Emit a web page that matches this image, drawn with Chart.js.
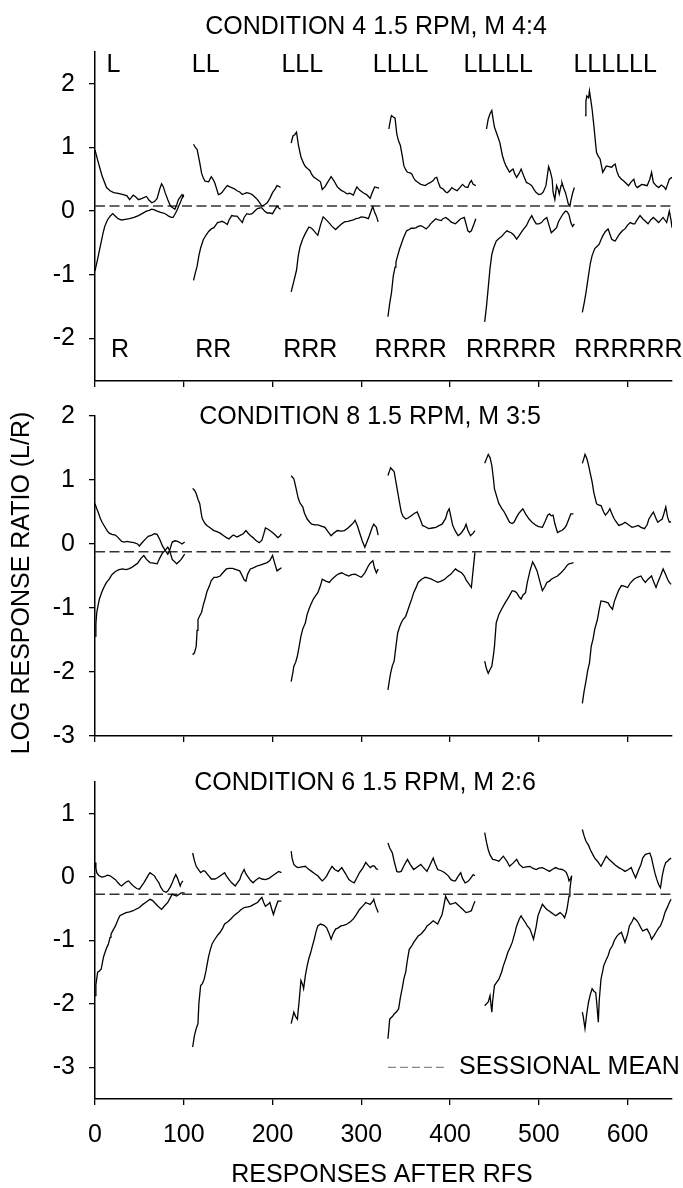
<!DOCTYPE html>
<html>
<head>
<meta charset="utf-8">
<script src="https://cdn.jsdelivr.net/npm/chart.js@4.4.1/dist/chart.umd.min.js"></script>
<style>
html,body{margin:0;padding:0;background:#fff;}
#wrap{position:relative;width:683px;height:1188px;overflow:hidden;}
#wrap canvas{position:absolute;left:0;top:0;}
</style>
</head>
<body>
<div id="wrap">
<canvas id="c1" width="683" height="1188"></canvas>
<canvas id="c2" width="683" height="1188"></canvas>
<canvas id="c3" width="683" height="1188"></canvas>
</div>
<script>
// ---------------- DATA ----------------
const xTicks = [0, 100, 200, 300, 400, 500, 600];
const xLabels = ['0', '100', '200', '300', '400', '500', '600'];
const yTicks4 = [-2, -1, 0, 1, 2];
const yTicks8 = [-3, -2, -1, 0, 1, 2];
const yTicks6 = [-3, -2, -1, 0, 1];
const panelTitles = ['CONDITION 4 1.5 RPM, M 4:4', 'CONDITION 8 1.5 RPM, M 3:5', 'CONDITION 6 1.5 RPM, M 2:6'];
const sessionalMeans = [0.08, -0.12, -0.27];
const topLabels = ['L', 'LL', 'LLL', 'LLLL', 'LLLLL', 'LLLLLL'];
const bottomLabels = ['R', 'RR', 'RRR', 'RRRR', 'RRRRR', 'RRRRRR'];
const topLabelX = [13, 109, 210, 313, 415, 539];
const bottomLabelX = [18, 113, 212, 315, 418, 540];
const yAxisTitle = 'LOG RESPONSE RATIO (L/R)';
const xAxisTitle = 'RESPONSES AFTER RFS';
const legendText = 'SESSIONAL MEAN';

// Condition 4 (M 4:4)
const c4L1 = [[0,0.96],[3,0.8],[6,0.65],[8,0.55],[13,0.37],[17,0.32],[21,0.29],[26,0.28],[32,0.26],[36,0.24],[39,0.18],[43,0.25],[46,0.22],[49,0.18],[53,0.2],[58,0.23],[61,0.17],[64,0.13],[67,0.15],[70,0.2],[73,0.35],[75,0.43],[77,0.38],[79,0.29],[82,0.18],[85,0.08],[88,0.05],[90,0.03],[92,0.1],[94,0.18],[96,0.22],[98,0.26],[100,0.22]];
const c4R1 = [[0,-0.94],[3,-0.75],[6,-0.55],[9,-0.35],[11,-0.24],[14,-0.14],[17,-0.08],[20,-0.04],[23,-0.08],[26,-0.12],[30,-0.14],[34,-0.13],[39,-0.12],[44,-0.1],[49,-0.07],[53,-0.04],[58,0.0],[61,0.01],[64,0.03],[67,0.02],[70,0.0],[74,-0.02],[77,-0.03],[80,-0.05],[83,-0.08],[86,-0.1],[88,-0.1],[90,-0.05],[92,0.0],[94,0.07],[96,0.13],[98,0.2],[100,0.26]];
const c4L2 = [[111,1.05],[113,1.0],[115,0.97],[118,0.76],[120,0.6],[122,0.52],[124,0.47],[128,0.46],[131,0.54],[133,0.5],[135,0.44],[137,0.35],[139,0.26],[141,0.27],[143,0.29],[146,0.35],[149,0.4],[152,0.38],[154,0.37],[157,0.35],[160,0.32],[163,0.3],[166,0.26],[169,0.28],[171,0.29],[174,0.28],[177,0.26],[180,0.22],[183,0.18],[186,0.12],[188,0.08],[191,0.1],[194,0.13],[197,0.2],[200,0.29],[203,0.35],[205,0.4],[207,0.39],[209,0.37]];
const c4R2 = [[111,-1.09],[113,-0.97],[115,-0.87],[117,-0.7],[119,-0.58],[122,-0.45],[125,-0.38],[128,-0.32],[131,-0.28],[134,-0.26],[136,-0.22],[138,-0.18],[141,-0.17],[143,-0.16],[146,-0.18],[149,-0.21],[151,-0.14],[154,-0.07],[157,-0.08],[160,-0.08],[163,-0.13],[166,-0.18],[168,-0.1],[171,-0.04],[174,-0.05],[177,-0.04],[180,0.0],[183,0.04],[186,0.05],[188,0.05],[191,0.0],[194,-0.03],[197,-0.03],[200,-0.04],[203,0.03],[205,0.08],[207,0.05],[209,0.03]];
const c4L3 = [[221,1.07],[223,1.18],[225,1.2],[227,1.24],[229,1.05],[232,0.85],[235,0.75],[237,0.7],[240,0.66],[242,0.64],[244,0.58],[246,0.54],[250,0.5],[254,0.46],[256,0.34],[259,0.38],[262,0.45],[266,0.54],[269,0.48],[273,0.38],[277,0.33],[281,0.3],[284,0.27],[287,0.28],[291,0.25],[293,0.32],[295,0.38],[298,0.33],[301,0.3],[303,0.28],[306,0.26],[308,0.23],[310,0.2],[312,0.28],[315,0.38],[318,0.37],[320,0.36]];
const c4R3 = [[221,-1.27],[224,-1.1],[227,-0.93],[229,-0.7],[231,-0.56],[234,-0.44],[237,-0.35],[239,-0.3],[241,-0.25],[244,-0.27],[246,-0.3],[249,-0.35],[251,-0.38],[254,-0.22],[257,-0.09],[260,-0.13],[264,-0.19],[267,-0.24],[271,-0.29],[274,-0.25],[277,-0.21],[281,-0.17],[285,-0.16],[288,-0.15],[291,-0.14],[294,-0.12],[297,-0.11],[300,-0.09],[304,-0.1],[308,-0.12],[311,0.0],[313,0.07],[315,-0.02],[317,-0.08],[319,-0.17]];
const c4L4 = [[331,1.29],[333,1.45],[334,1.5],[336,1.48],[338,1.46],[340,1.21],[342,1.1],[344,1.03],[346,0.88],[348,0.71],[350,0.65],[352,0.61],[355,0.6],[357,0.58],[359,0.52],[361,0.48],[364,0.45],[367,0.42],[370,0.41],[372,0.4],[375,0.43],[378,0.45],[381,0.48],[383,0.52],[385,0.53],[387,0.44],[389,0.37],[392,0.35],[395,0.3],[397,0.29],[400,0.33],[402,0.37],[405,0.34],[408,0.32],[411,0.37],[414,0.42],[417,0.38],[420,0.37],[422,0.44],[424,0.48],[426,0.42],[429,0.4]];
const c4R4 = [[330,-1.66],[332,-1.45],[334,-1.28],[336,-1.02],[338,-0.88],[339,-0.8],[341,-0.7],[343,-0.6],[345,-0.52],[347,-0.44],[349,-0.37],[351,-0.31],[354,-0.29],[356,-0.27],[359,-0.27],[362,-0.26],[364,-0.24],[367,-0.23],[370,-0.25],[373,-0.28],[376,-0.24],[378,-0.2],[381,-0.16],[384,-0.12],[387,-0.14],[390,-0.15],[392,-0.12],[395,-0.1],[398,-0.13],[401,-0.17],[404,-0.19],[406,-0.2],[409,-0.16],[412,-0.12],[414,-0.11],[416,-0.1],[418,-0.2],[420,-0.31],[422,-0.33],[424,-0.31],[427,-0.2],[429,-0.12]];
const c4L5 = [[441,1.29],[443,1.45],[445,1.53],[447,1.58],[449,1.4],[450,1.32],[453,1.2],[456,1.08],[459,0.87],[461,0.78],[463,0.71],[467,0.61],[469,0.64],[471,0.66],[473,0.58],[475,0.53],[478,0.6],[480,0.66],[483,0.55],[486,0.45],[489,0.43],[492,0.4],[495,0.33],[497,0.29],[500,0.26],[503,0.27],[505,0.3],[508,0.4],[510,0.6],[511,0.7],[513,0.62],[515,0.5],[516,0.3],[518,0.18],[520,0.4],[522,0.33],[523,0.27],[525,0.4],[526,0.45],[528,0.36],[530,0.29],[532,0.18],[533,0.12],[535,0.08],[536,0.16],[538,0.28],[540,0.37]];
const c4R5 = [[439,-1.74],[441,-1.5],[443,-1.2],[445,-0.9],[447,-0.68],[449,-0.58],[452,-0.47],[455,-0.43],[458,-0.4],[461,-0.35],[464,-0.31],[467,-0.33],[469,-0.34],[472,-0.38],[475,-0.44],[478,-0.38],[480,-0.34],[483,-0.28],[486,-0.23],[489,-0.14],[492,-0.07],[494,-0.13],[497,-0.2],[500,-0.2],[503,-0.18],[506,-0.13],[509,-0.1],[511,-0.2],[514,-0.34],[517,-0.3],[520,-0.26],[522,-0.17],[524,-0.12],[527,-0.05],[530,0.0],[532,-0.01],[534,-0.06],[536,-0.18],[538,-0.24],[540,-0.2]];
const c4L6 = [[552,1.5],[553,1.72],[554,1.81],[556,1.78],[557,1.89],[559,1.7],[560,1.6],[562,1.34],[564,1.05],[565,0.92],[567,0.86],[569,0.82],[571,0.68],[572,0.61],[574,0.66],[576,0.71],[579,0.7],[582,0.69],[584,0.72],[586,0.74],[588,0.62],[590,0.55],[593,0.5],[595,0.48],[598,0.44],[601,0.4],[604,0.46],[607,0.5],[609,0.4],[611,0.37],[614,0.4],[616,0.42],[619,0.41],[622,0.4],[625,0.5],[627,0.61],[629,0.45],[632,0.4],[635,0.37],[638,0.41],[641,0.38],[643,0.34],[645,0.42],[647,0.5],[650,0.53]];
const c4R6 = [[549,-1.59],[551,-1.45],[553,-1.29],[555,-1.1],[558,-0.82],[560,-0.7],[563,-0.59],[566,-0.55],[568,-0.52],[570,-0.45],[572,-0.39],[575,-0.32],[578,-0.28],[580,-0.36],[582,-0.44],[584,-0.46],[586,-0.47],[589,-0.4],[591,-0.36],[594,-0.31],[597,-0.28],[600,-0.22],[603,-0.18],[606,-0.2],[608,-0.2],[611,-0.13],[614,-0.07],[617,-0.12],[620,-0.16],[623,-0.2],[626,-0.14],[629,-0.1],[632,-0.14],[635,-0.18],[638,-0.13],[640,-0.1],[642,-0.14],[644,-0.18],[646,-0.06],[647,0.0],[649,-0.15],[650,-0.26]];

// Condition 8 (M 3:5)
const c8L1 = [[0,0.63],[2,0.55],[4,0.48],[6,0.4],[8,0.34],[11,0.27],[14,0.2],[16,0.17],[19,0.15],[23,0.14],[26,0.1],[30,0.04],[33,0.03],[36,0.04],[40,0.03],[44,0.02],[48,0.0],[50,-0.03],[53,0.02],[57,0.08],[60,0.12],[64,0.14],[67,0.16],[70,0.15],[73,0.07],[76,-0.03],[79,-0.1],[82,-0.16],[84,-0.1],[87,0.03],[90,0.05],[93,0.04],[96,0.02],[98,0.0],[101,0.03]];
const c8R1 = [[0,-1.44],[1,-1.25],[2,-1.07],[4,-0.92],[5,-0.86],[8,-0.74],[11,-0.65],[13,-0.6],[16,-0.55],[19,-0.48],[23,-0.43],[27,-0.4],[31,-0.39],[35,-0.4],[38,-0.39],[41,-0.37],[45,-0.33],[48,-0.3],[52,-0.22],[55,-0.18],[58,-0.24],[62,-0.29],[66,-0.3],[70,-0.31],[73,-0.22],[76,-0.14],[79,-0.1],[82,-0.05],[84,-0.1],[87,-0.24],[90,-0.28],[92,-0.31],[95,-0.27],[97,-0.24],[99,-0.2],[101,-0.16]];
const c8L2 = [[110,0.87],[112,0.84],[114,0.79],[116,0.7],[118,0.63],[120,0.45],[121,0.39],[124,0.32],[126,0.29],[130,0.25],[134,0.21],[138,0.19],[141,0.17],[145,0.13],[148,0.1],[151,0.08],[154,0.12],[156,0.14],[160,0.11],[163,0.13],[167,0.16],[170,0.21],[173,0.16],[176,0.12],[178,0.1],[181,0.06],[185,0.02],[188,0.06],[190,0.15],[192,0.25],[195,0.23],[198,0.2],[200,0.18],[203,0.14],[206,0.1],[208,0.12],[210,0.16]];
const c8R2 = [[110,-1.73],[112,-1.7],[114,-1.6],[115,-1.35],[116,-1.18],[118,-1.12],[120,-1.07],[122,-0.95],[124,-0.86],[126,-0.75],[129,-0.65],[131,-0.57],[134,-0.52],[137,-0.52],[141,-0.5],[144,-0.45],[148,-0.39],[151,-0.38],[155,-0.38],[159,-0.4],[163,-0.42],[166,-0.5],[168,-0.56],[170,-0.58],[172,-0.47],[175,-0.39],[179,-0.37],[183,-0.34],[186,-0.33],[190,-0.31],[194,-0.29],[197,-0.26],[200,-0.18],[202,-0.28],[205,-0.42],[207,-0.4],[210,-0.37]];
const c8L3 = [[221,1.07],[222,1.05],[224,1.02],[226,0.9],[229,0.71],[231,0.64],[234,0.58],[236,0.48],[239,0.39],[242,0.34],[244,0.31],[248,0.3],[251,0.3],[255,0.28],[259,0.26],[262,0.2],[266,0.13],[269,0.17],[273,0.21],[277,0.2],[281,0.21],[285,0.25],[288,0.29],[291,0.33],[293,0.37],[296,0.27],[298,0.18],[301,0.05],[304,-0.05],[306,0.02],[309,0.13],[312,0.25],[314,0.31],[317,0.26],[319,0.14]];
const c8R3 = [[221,-2.15],[223,-2.0],[224,-1.91],[226,-1.85],[228,-1.75],[230,-1.6],[232,-1.44],[234,-1.33],[237,-1.23],[239,-1.1],[241,-1.02],[243,-0.95],[246,-0.86],[248,-0.82],[251,-0.76],[254,-0.65],[256,-0.55],[260,-0.58],[264,-0.6],[267,-0.55],[271,-0.5],[274,-0.47],[278,-0.45],[282,-0.48],[286,-0.5],[289,-0.48],[293,-0.47],[297,-0.5],[300,-0.52],[304,-0.45],[308,-0.34],[310,-0.3],[313,-0.26],[315,-0.38],[317,-0.45],[319,-0.39]];
const c8L4 = [[330,1.07],[332,1.15],[333,1.19],[335,1.16],[337,1.13],[339,0.97],[341,0.81],[343,0.65],[345,0.5],[347,0.43],[350,0.39],[353,0.41],[357,0.45],[360,0.48],[363,0.5],[366,0.4],[369,0.29],[372,0.27],[376,0.24],[380,0.25],[384,0.26],[388,0.29],[391,0.31],[395,0.4],[397,0.5],[399,0.55],[401,0.42],[403,0.29],[406,0.2],[409,0.13],[411,0.15],[413,0.18],[416,0.24],[418,0.31],[420,0.22],[423,0.13],[426,0.17],[428,0.21]];
const c8R4 = [[330,-2.28],[332,-2.1],[333,-2.02],[335,-1.9],[337,-1.83],[339,-1.6],[341,-1.39],[343,-1.3],[345,-1.23],[347,-1.18],[350,-1.13],[352,-1.05],[354,-0.97],[357,-0.85],[359,-0.76],[362,-0.67],[364,-0.6],[368,-0.55],[372,-0.52],[375,-0.53],[379,-0.55],[382,-0.57],[386,-0.6],[390,-0.58],[394,-0.55],[397,-0.51],[401,-0.47],[404,-0.42],[406,-0.39],[409,-0.42],[413,-0.45],[416,-0.5],[418,-0.56],[421,-0.62],[424,-0.68],[426,-0.4],[428,-0.13]];
const c8L5 = [[439,1.26],[441,1.33],[443,1.4],[445,1.35],[447,1.23],[449,1.0],[450,0.86],[453,0.72],[455,0.63],[458,0.56],[461,0.5],[464,0.42],[467,0.34],[470,0.32],[472,0.34],[475,0.42],[477,0.47],[480,0.52],[482,0.55],[485,0.47],[489,0.39],[493,0.33],[497,0.29],[500,0.27],[504,0.26],[507,0.35],[510,0.45],[512,0.47],[514,0.44],[516,0.45],[518,0.32],[521,0.18],[524,0.2],[526,0.21],[529,0.25],[531,0.29],[534,0.4],[536,0.47],[539,0.47]];
const c8R5 = [[439,-1.83],[441,-1.95],[443,-2.02],[445,-1.96],[447,-1.91],[449,-1.72],[450,-1.6],[452,-1.23],[455,-1.1],[458,-1.02],[462,-0.92],[466,-0.83],[470,-0.73],[473,-0.74],[475,-0.76],[478,-0.83],[480,-0.86],[482,-0.8],[485,-0.76],[487,-0.6],[490,-0.42],[493,-0.28],[495,-0.33],[498,-0.42],[501,-0.58],[504,-0.73],[507,-0.66],[509,-0.6],[512,-0.58],[514,-0.55],[518,-0.52],[521,-0.5],[525,-0.45],[529,-0.39],[532,-0.33],[534,-0.31],[537,-0.3],[539,-0.29]];
const c8L6 = [[549,1.26],[551,1.35],[552,1.4],[554,1.34],[556,1.23],[558,1.1],[560,0.97],[562,0.8],[565,0.63],[567,0.61],[570,0.6],[573,0.5],[575,0.45],[578,0.5],[580,0.55],[583,0.45],[585,0.39],[588,0.33],[590,0.29],[594,0.31],[597,0.34],[601,0.3],[605,0.26],[608,0.27],[612,0.29],[615,0.26],[619,0.24],[622,0.3],[624,0.39],[627,0.46],[629,0.5],[632,0.4],[634,0.34],[637,0.37],[639,0.39],[641,0.48],[643,0.58],[645,0.42],[647,0.34],[649,0.35]];
const c8R6 = [[549,-2.49],[551,-2.3],[553,-2.15],[555,-1.98],[557,-1.86],[559,-1.6],[561,-1.49],[563,-1.33],[566,-1.18],[568,-1.02],[570,-0.89],[574,-0.9],[578,-0.92],[580,-0.97],[583,-1.02],[585,-0.9],[588,-0.79],[590,-0.72],[593,-0.65],[596,-0.66],[600,-0.68],[603,-0.61],[607,-0.55],[611,-0.52],[615,-0.5],[617,-0.55],[620,-0.6],[623,-0.55],[627,-0.5],[629,-0.58],[632,-0.68],[634,-0.6],[637,-0.5],[640,-0.39],[643,-0.48],[645,-0.55],[647,-0.6],[649,-0.63]];

// Condition 6 (M 2:6)
const c6L1 = [[0,0.23],[1,0.14],[2,0.07],[4,0.03],[6,0.01],[8,0.0],[11,0.01],[14,0.03],[17,0.02],[20,-0.01],[23,-0.04],[26,-0.09],[28,-0.12],[30,-0.14],[33,-0.1],[36,-0.07],[38,-0.06],[41,-0.11],[44,-0.15],[47,-0.18],[50,-0.19],[53,-0.13],[55,-0.09],[58,-0.02],[60,0.03],[62,0.07],[64,0.05],[67,0.02],[69,-0.03],[72,-0.09],[74,-0.16],[77,-0.22],[80,-0.24],[82,-0.22],[85,-0.15],[87,-0.09],[89,-0.02],[91,0.04],[93,-0.02],[96,-0.14],[97,-0.1],[99,-0.06]];
const c6R1 = [[0,-1.87],[1,-1.7],[3,-1.5],[5,-1.48],[7,-1.45],[9,-1.3],[10,-1.24],[13,-1.12],[15,-1.06],[17,-0.95],[18,-0.9],[21,-0.82],[23,-0.77],[26,-0.67],[28,-0.61],[32,-0.58],[35,-0.56],[39,-0.55],[43,-0.53],[47,-0.5],[50,-0.48],[54,-0.43],[57,-0.4],[60,-0.37],[62,-0.35],[65,-0.37],[67,-0.4],[71,-0.46],[75,-0.51],[78,-0.46],[82,-0.4],[85,-0.32],[87,-0.27],[90,-0.29],[92,-0.3],[95,-0.27],[97,-0.25],[101,-0.25]];
const c6L2 = [[110,0.38],[112,0.26],[114,0.17],[117,0.11],[119,0.07],[122,0.1],[124,0.09],[127,0.04],[131,-0.03],[135,-0.03],[138,-0.01],[142,0.03],[146,0.07],[148,0.02],[151,-0.04],[154,-0.09],[158,-0.14],[160,-0.1],[163,-0.04],[165,0.04],[168,0.12],[170,0.05],[173,-0.01],[175,-0.05],[178,-0.09],[181,-0.05],[185,-0.01],[188,-0.03],[192,-0.04],[196,-0.02],[200,0.02],[204,0.06],[207,0.09],[210,0.07]];
const c6R2 = [[110,-2.68],[112,-2.5],[114,-2.39],[116,-2.31],[117,-2.0],[119,-1.71],[121,-1.68],[123,-1.61],[125,-1.48],[126,-1.4],[128,-1.25],[130,-1.14],[132,-1.05],[135,-0.98],[138,-0.92],[141,-0.87],[144,-0.8],[146,-0.74],[150,-0.7],[153,-0.66],[157,-0.6],[161,-0.56],[164,-0.52],[168,-0.48],[172,-0.47],[175,-0.46],[179,-0.43],[183,-0.4],[186,-0.35],[188,-0.32],[190,-0.4],[192,-0.46],[195,-0.43],[197,-0.4],[199,-0.5],[201,-0.59],[203,-0.5],[206,-0.38],[210,-0.38]];
const c6L3 = [[221,0.41],[222,0.3],[224,0.2],[227,0.16],[229,0.15],[233,0.16],[237,0.17],[240,0.13],[244,0.09],[248,0.05],[251,0.02],[254,-0.03],[256,-0.06],[259,-0.02],[261,0.02],[264,0.1],[267,0.17],[270,0.12],[274,0.09],[276,0.12],[278,0.15],[282,0.06],[286,-0.04],[289,-0.07],[292,-0.09],[295,-0.01],[298,0.07],[302,0.15],[305,0.23],[308,0.18],[310,0.15],[313,0.18],[315,0.17],[317,0.13],[319,0.12]];
const c6R3 = [[221,-2.31],[222,-2.25],[224,-2.13],[226,-2.2],[228,-2.24],[230,-1.95],[232,-1.63],[234,-1.7],[235,-1.76],[237,-1.55],[239,-1.4],[241,-1.28],[243,-1.19],[245,-1.08],[247,-0.98],[249,-0.86],[251,-0.77],[254,-0.74],[258,-0.76],[261,-0.8],[264,-0.9],[266,-0.98],[268,-0.9],[271,-0.82],[274,-0.8],[277,-0.77],[280,-0.76],[284,-0.74],[288,-0.7],[291,-0.66],[294,-0.6],[298,-0.51],[302,-0.45],[305,-0.4],[308,-0.42],[310,-0.43],[313,-0.38],[314,-0.35],[316,-0.45],[319,-0.56]];
const c6L4 = [[330,0.54],[332,0.46],[335,0.38],[337,0.25],[340,0.09],[342,0.08],[345,0.09],[348,0.18],[352,0.28],[355,0.2],[359,0.12],[363,0.16],[367,0.2],[370,0.15],[374,0.09],[377,0.18],[381,0.3],[383,0.22],[386,0.12],[390,0.1],[394,0.07],[398,0.02],[401,-0.04],[404,-0.06],[406,-0.06],[409,0.01],[412,0.07],[414,-0.02],[417,-0.09],[420,-0.07],[422,-0.04],[424,0.0],[426,0.04],[428,0.02]];
const c6R4 = [[330,-2.55],[331,-2.4],[332,-2.24],[335,-2.2],[337,-2.16],[340,-2.12],[342,-2.08],[344,-1.9],[346,-1.76],[348,-1.6],[350,-1.5],[352,-1.3],[354,-1.14],[357,-1.08],[359,-1.03],[362,-0.97],[364,-0.93],[367,-0.9],[369,-0.87],[372,-0.82],[374,-0.77],[377,-0.74],[381,-0.69],[384,-0.72],[386,-0.74],[389,-0.65],[391,-0.59],[393,-0.45],[395,-0.3],[397,-0.36],[400,-0.43],[403,-0.42],[406,-0.4],[409,-0.44],[412,-0.48],[415,-0.52],[418,-0.56],[421,-0.55],[424,-0.53],[426,-0.45],[428,-0.38]];
const c6L5 = [[439,0.7],[441,0.55],[443,0.43],[445,0.35],[448,0.28],[451,0.27],[455,0.25],[458,0.3],[460,0.33],[464,0.25],[467,0.17],[471,0.22],[475,0.28],[478,0.2],[482,0.15],[486,0.16],[490,0.17],[493,0.14],[497,0.12],[500,0.14],[504,0.15],[508,0.12],[512,0.09],[515,0.12],[519,0.15],[522,0.13],[526,0.12],[529,0.1],[531,0.07],[533,0.0],[534,-0.06],[536,-0.02],[537,0.02]];
const c6R5 = [[439,-2.03],[441,-2.0],[443,-1.97],[445,-1.87],[447,-2.13],[448,-1.95],[450,-1.71],[453,-1.65],[455,-1.61],[458,-1.5],[460,-1.4],[463,-1.28],[465,-1.19],[468,-1.1],[470,-1.03],[473,-0.88],[475,-0.77],[478,-0.66],[480,-0.61],[482,-0.66],[485,-0.72],[487,-0.77],[490,-0.82],[492,-0.9],[494,-0.98],[497,-0.78],[499,-0.61],[502,-0.5],[504,-0.43],[507,-0.48],[509,-0.51],[512,-0.54],[514,-0.56],[517,-0.59],[519,-0.61],[522,-0.58],[524,-0.56],[527,-0.6],[529,-0.64],[531,-0.55],[532,-0.48],[534,-0.3],[535,-0.19],[536,-0.08],[537,0.02]];
const c6L6 = [[549,0.75],[551,0.65],[553,0.57],[556,0.5],[558,0.43],[561,0.35],[563,0.3],[566,0.25],[570,0.17],[573,0.25],[576,0.33],[579,0.28],[583,0.23],[586,0.19],[590,0.15],[594,0.12],[597,0.09],[601,0.12],[604,0.15],[606,0.08],[609,-0.01],[612,0.1],[615,0.2],[617,0.3],[620,0.36],[623,0.37],[625,0.38],[627,0.3],[629,0.17],[631,0.05],[633,-0.04],[635,-0.12],[637,-0.17],[639,0.02],[641,0.15],[643,0.23],[645,0.25],[647,0.28],[649,0.3]];
const c6R6 = [[549,-2.13],[550,-2.2],[552,-2.39],[554,-2.15],[556,-1.97],[558,-1.85],[560,-1.76],[562,-1.8],[564,-1.82],[565,-1.95],[567,-2.29],[568,-1.95],[570,-1.61],[572,-1.48],[573,-1.4],[576,-1.3],[578,-1.24],[580,-1.15],[583,-1.08],[585,-1.0],[588,-0.93],[590,-0.9],[593,-0.87],[595,-0.95],[597,-1.03],[600,-0.9],[602,-0.77],[605,-0.7],[607,-0.64],[610,-0.68],[612,-0.72],[615,-0.8],[617,-0.85],[620,-0.83],[622,-0.82],[625,-0.9],[627,-0.98],[630,-0.92],[632,-0.87],[635,-0.8],[637,-0.77],[640,-0.66],[642,-0.56],[645,-0.47],[647,-0.4],[649,-0.35]];

// ---------------- RENDER ----------------
const FONT_FAMILY = '"Liberation Sans", Arial, Helvetica, sans-serif';
const FONT_SIZE = 25;
Chart.defaults.font.family = FONT_FAMILY;
Chart.defaults.font.size = FONT_SIZE;
Chart.defaults.color = '#000';

const textPlugin = {
  id: 'panelTexts',
  afterDraw(chart, args, opts) {
    const ctx = chart.ctx;
    const xs = chart.scales.x, ys = chart.scales.y;
    ctx.save();
    ctx.fillStyle = '#000';
    ctx.font = FONT_SIZE + 'px ' + FONT_FAMILY;
    (opts.items || []).forEach(it => {
      const px = (it.dx !== undefined) ? xs.getPixelForValue(it.dx) : it.px;
      const py = (it.dy !== undefined) ? ys.getPixelForValue(it.dy) : it.py;
      ctx.save();
      ctx.translate(px, py);
      if (it.rot) ctx.rotate(it.rot);
      ctx.textAlign = it.align || 'center';
      ctx.textBaseline = 'middle';
      ctx.fillText(it.text, 0, 0);
      ctx.restore();
    });
    if (opts.legend) {
      const lg = opts.legend;
      const y = ys.getPixelForValue(lg.dy);
      ctx.strokeStyle = '#888';
      ctx.lineWidth = 1.2;
      ctx.setLineDash([8, 4]);
      ctx.beginPath();
      ctx.moveTo(xs.getPixelForValue(lg.x0), y);
      ctx.lineTo(xs.getPixelForValue(lg.x1), y);
      ctx.stroke();
      ctx.setLineDash([]);
      ctx.textAlign = 'left';
      ctx.textBaseline = 'middle';
      ctx.fillText(lg.text, xs.getPixelForValue(lg.tx), y);
    }
    ctx.restore();
  }
};

function makePanel(id, curves, mean, yMin, yMax, yTicks, areaTop, areaBottom, xAxisH, showXLabels, texts, legend) {
  const datasets = curves.map(c => ({
    data: c.map(p => ({x: p[0], y: p[1]})),
    borderColor: '#000',
    borderWidth: 1.3,
    pointRadius: 0,
    fill: false,
    tension: 0
  }));
  datasets.push({
    data: [{x: 0, y: mean}, {x: 650, y: mean}],
    borderColor: '#333',
    borderWidth: 1.4,
    borderDash: [10, 4.5],
    pointRadius: 0,
    fill: false
  });
  return new Chart(document.getElementById(id), {
    type: 'line',
    data: {datasets},
    plugins: [textPlugin],
    options: {
      responsive: false,
      animation: false,
      devicePixelRatio: 1,
      layout: {padding: {top: areaTop, bottom: 1188 - areaBottom - xAxisH, left: 0, right: 11}},
      plugins: {
        legend: {display: false},
        tooltip: {enabled: false},
        title: {display: false},
        panelTexts: {items: texts, legend: legend}
      },
      scales: {
        x: {
          type: 'linear', min: 0, max: 650,
          afterBuildTicks: s => { s.ticks = xTicks.map(v => ({value: v})); },
          afterFit: s => { s.height = xAxisH; },
          grid: {drawOnChartArea: false, drawTicks: true, tickLength: 6, color: '#000', lineWidth: 1.3},
          border: {display: true, color: '#000', width: 1.5},
          ticks: {display: showXLabels, padding: 15, maxRotation: 0, autoSkip: false,
                  callback: (v) => { const i = xTicks.indexOf(v); return i >= 0 ? xLabels[i] : ''; }},
          title: {display: false}
        },
        y: {
          type: 'linear', min: yMin, max: yMax,
          afterBuildTicks: s => { s.ticks = yTicks.map(v => ({value: v})); },
          afterFit: s => { s.width = 95; },
          grid: {drawOnChartArea: false, drawTicks: true, tickLength: 6, color: '#000', lineWidth: 1.3},
          border: {display: true, color: '#000', width: 1.5},
          ticks: {padding: 14, autoSkip: false, callback: v => String(v)},
          title: {display: false}
        }
      }
    }
  });
}

const lrTexts = [];
topLabels.forEach((t, i) => lrTexts.push({text: t, dx: topLabelX[i], dy: 2.3, align: 'left'}));
bottomLabels.forEach((t, i) => lrTexts.push({text: t, dx: bottomLabelX[i], dy: -2.19, align: 'left'}));
lrTexts.push({text: panelTitles[0], px: 376, py: 27});

makePanel('c1', [c4L1, c4R1, c4L2, c4R2, c4L3, c4R3, c4L4, c4R4, c4L5, c4R5, c4L6, c4R6],
  sessionalMeans[0], -2.67, 2.5, yTicks4, 52, 381, 10, false, lrTexts, null);

makePanel('c2', [c8L1, c8R1, c8L2, c8R2, c8L3, c8R3, c8L4, c8R4, c8L5, c8R5, c8L6, c8R6],
  sessionalMeans[1], -3, 2, yTicks8, 416, 736, 10, false,
  [{text: panelTitles[1], px: 370, py: 417},
   {text: yAxisTitle, px: 22, py: 583, rot: -Math.PI / 2}], null);

makePanel('c3', [c6L1, c6R1, c6L2, c6R2, c6L3, c6R3, c6L4, c6R4, c6L5, c6R5, c6L6, c6R6],
  sessionalMeans[2], -3.5, 1.5, yTicks6, 782, 1099, 89, true,
  [{text: panelTitles[2], px: 365, py: 783},
   {text: xAxisTitle, px: 382, py: 1175}],
  {dy: -3, x0: 330, x1: 393, tx: 410, text: legendText});
</script>
</body>
</html>
